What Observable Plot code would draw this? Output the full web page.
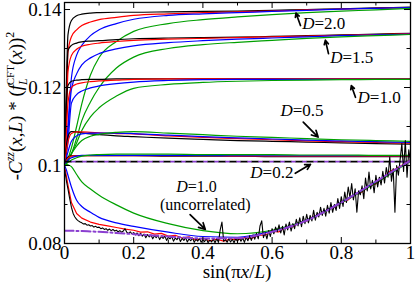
<!DOCTYPE html>
<html><head><meta charset="utf-8">
<script src="https://cdn.jsdelivr.net/npm/d3@7"></script>
<script src="https://cdn.jsdelivr.net/npm/@observablehq/plot@0.6"></script>
<style>body{margin:0;background:#fff;} svg{display:block} svg text{font-family:"Liberation Serif","Times New Roman",Times,serif;}</style>
</head><body><div id="chart"></div>
<script>
// x = sin(pi x / L) grid shared by the smooth curves
const sGrid = [0, 0.005, 0.01, 0.02, 0.035, 0.05, 0.075, 0.1, 0.15, 0.2, 0.3, 0.4, 0.5, 0.6, 0.7, 0.8, 0.9, 1];

// D = 2.0
const d20Black = [0.1000,0.1190,0.1335,0.1372,0.1384,0.1388,0.1391,0.1392,0.1393,0.1393,0.1394,0.1395,0.1396,0.1398,0.1400,0.1402,0.1404,0.1406];
const d20Red   = [0.1000,0.1130,0.1290,0.1330,0.1348,0.1359,0.1368,0.1374,0.1380,0.1385,0.1389,0.1392,0.1394,0.1396,0.1399,0.1401,0.1403,0.1405];
const d20Blue  = [0.1000,0.1040,0.1100,0.1225,0.1283,0.1308,0.1333,0.1348,0.1364,0.1375,0.1385,0.1389,0.1392,0.1395,0.1398,0.1401,0.1403,0.1405];
const d20Green = [0.1000,0.1008,0.1018,0.1045,0.1100,0.1158,0.1232,0.1277,0.1318,0.1344,0.1364,0.1374,0.1381,0.1387,0.1392,0.1396,0.1399,0.1403];
// D = 1.5
const d15Black = [0.1000,0.1150,0.1295,0.1308,0.1314,0.1317,0.1319,0.1320,0.1323,0.1325,0.1327,0.1328,0.1329,0.1331,0.1333,0.1335,0.1337,0.1339];
const d15Red   = [0.1000,0.1090,0.1240,0.1282,0.1298,0.1306,0.1311,0.1314,0.1318,0.1321,0.1324,0.1326,0.1328,0.1330,0.1332,0.1334,0.1336,0.1338];
const d15Blue  = [0.1000,0.1035,0.1090,0.1195,0.1235,0.1258,0.1276,0.1287,0.1299,0.1307,0.1315,0.1320,0.1324,0.1327,0.1330,0.1333,0.1335,0.1337];
const d15Green = [0.1000,0.1006,0.1014,0.1030,0.1070,0.1115,0.1163,0.1200,0.1250,0.1278,0.1300,0.1310,0.1316,0.1321,0.1326,0.1330,0.1333,0.1336];
// D = 1.0
const d10Black = [0.1000,0.1150,0.1205,0.1216,0.1219,0.1220,0.1221,0.1221,0.1222,0.1222,0.1222,0.1222,0.1222,0.1222,0.1222,0.1222,0.1222,0.1222];
const d10Red   = [0.1000,0.1080,0.1160,0.1200,0.1209,0.1212,0.1215,0.1217,0.1219,0.1221,0.1222,0.1222,0.1222,0.1222,0.1222,0.1222,0.1222,0.1222];
const d10Blue  = [0.1000,0.1025,0.1060,0.1160,0.1182,0.1191,0.1199,0.1204,0.1210,0.1214,0.1218,0.1220,0.1221,0.1221,0.1221,0.1221,0.1221,0.1221];
const d10Green = [0.1000,0.1006,0.1014,0.1030,0.1058,0.1090,0.1125,0.1148,0.1178,0.1198,0.1208,0.1213,0.1216,0.1218,0.1219,0.1220,0.1221,0.1221];
// D = 0.5
const d05Black = [0.1000,0.1045,0.1075,0.1087,0.1086,0.1084,0.1081,0.1079,0.1076,0.1074,0.1070,0.1067,0.1064,0.1062,0.1060,0.1058,0.1056,0.1055];
const d05Red   = [0.1000,0.1035,0.1060,0.1082,0.1086,0.1086,0.1085,0.1084,0.1082,0.1081,0.1076,0.1072,0.1069,0.1066,0.1063,0.1061,0.1059,0.1057];
const d05Blue  = [0.1000,0.1018,0.1035,0.1062,0.1076,0.1081,0.1083,0.1083,0.1083,0.1082,0.1078,0.1074,0.1071,0.1068,0.1065,0.1063,0.1061,0.1059];
const d05Green = [0.1000,0.1005,0.1012,0.1030,0.1050,0.1064,0.1075,0.1080,0.1085,0.1087,0.1083,0.1079,0.1075,0.1072,0.1069,0.1066,0.1064,0.1062];
// D = 0.2
const d02Black = [0.1000,0.1015,0.1022,0.1025,0.1025,0.1025,0.1025,0.1025,0.1025,0.1025,0.1024,0.1024,0.1024,0.1023,0.1023,0.1023,0.1023,0.1023];
const d02Red   = [0.1000,0.1012,0.1019,0.1024,0.1025,0.1025,0.1025,0.1025,0.1025,0.1025,0.1025,0.1025,0.1024,0.1024,0.1024,0.1024,0.1024,0.1024];
const d02Blue  = [0.1000,0.1008,0.1014,0.1020,0.1024,0.1026,0.1026,0.1026,0.1026,0.1026,0.1026,0.1026,0.1025,0.1025,0.1025,0.1025,0.1025,0.1025];
const d02Green = [0.1000,0.1004,0.1008,0.1014,0.1020,0.1024,0.1027,0.1028,0.1029,0.1029,0.1029,0.1028,0.1028,0.1028,0.1027,0.1027,0.1026,0.1026];
// clean reference level (dashed)
const cleanLevel = [0.1010, 0.1010];
const cleanS = [0, 1];
// D = 1.0 uncorrelated
const uncGreen = [0.1000,0.1003,0.1002,0.0997,0.0977,0.0958,0.0940,0.0924,0.0899,0.0878,0.0851,0.0833,0.0825,0.0834,0.0860,0.0904,0.0955,0.1012];
const uncBlue  = [0.1000,0.0990,0.0975,0.0945,0.0911,0.0895,0.0880,0.0867,0.0853,0.0844,0.0829,0.0818,0.0816,0.0832,0.0860,0.0906,0.0958,0.1012];
const uncFit   = [0.0833,0.0833,0.0833,0.0833,0.0832,0.0832,0.0831,0.0830,0.0827,0.0824,0.0818,0.0813,0.0814,0.0830,0.0859,0.0905,0.0959,0.1013];
const uncRedS = [0,0.005,0.01,0.02,0.035,0.05,0.075,0.1,0.125,0.15,0.175,0.2,0.22,0.24,0.26,0.28,0.3,0.32,0.34,0.36,0.38,0.4,0.42,0.44,0.46,0.48,0.5,0.52,0.54,0.56,0.58,0.6,0.62,0.64,0.66,0.68,0.7,0.72,0.74,0.76,0.78,0.8,0.82,0.84,0.86,0.88,0.9,0.92,0.94,0.96,0.98,1];
const uncRed  = [0.1000,0.0975,0.0950,0.0905,0.0877,0.0865,0.0855,0.0849,0.0845,0.0841,0.0837,0.0834,0.0829,0.0830,0.0824,0.0826,0.0819,0.0821,0.0814,0.0817,0.0809,0.0813,0.0807,0.0811,0.0806,0.0812,0.0809,0.0815,0.0813,0.0821,0.0822,0.0831,0.0830,0.0842,0.0843,0.0855,0.0858,0.0870,0.0877,0.0887,0.0893,0.0906,0.0912,0.0926,0.0932,0.0947,0.0953,0.0968,0.0985,0.0992,0.1003,0.1015];
const uncBlackS = [0,0.003,0.006,0.01,0.015,0.02,0.025,0.03,0.035,0.04,0.045,0.05,0.055,0.06,0.065,0.07,0.075,0.08,0.085,0.09,0.095,0.1,0.105,0.11,0.115,0.12,0.125,0.13,0.135,0.14,0.145,0.15,0.155,0.16,0.165,0.17,0.175,0.18,0.185,0.19,0.195,0.2,0.205,0.21,0.215,0.22,0.225,0.23,0.235,0.24,0.245,0.25,0.255,0.26,0.265,0.27,0.275,0.28,0.285,0.29,0.295,0.3,0.305,0.31,0.315,0.32,0.325,0.33,0.335,0.34,0.345,0.35,0.355,0.36,0.365,0.37,0.375,0.38,0.385,0.39,0.395,0.4,0.405,0.41,0.415,0.42,0.425,0.43,0.435,0.44,0.445,0.45,0.455,0.46,0.465,0.47,0.475,0.48,0.485,0.49,0.495,0.5,0.505,0.51,0.515,0.52,0.525,0.53,0.535,0.54,0.545,0.55,0.555,0.56,0.565,0.57,0.575,0.58,0.585,0.59,0.595,0.6,0.605,0.61,0.615,0.62,0.625,0.63,0.635,0.64,0.645,0.65,0.655,0.66,0.665,0.67,0.675,0.68,0.685,0.69,0.695,0.7,0.705,0.71,0.715,0.72,0.725,0.73,0.735,0.74,0.745,0.75,0.755,0.76,0.765,0.77,0.775,0.78,0.785,0.79,0.795,0.8,0.805,0.81,0.815,0.82,0.825,0.83,0.835,0.84,0.845,0.85,0.855,0.86,0.865,0.87,0.875,0.88,0.885,0.89,0.895,0.9,0.905,0.91,0.915,0.92,0.925,0.93,0.935,0.94,0.945,0.95,0.955,0.96,0.965,0.97,0.975,0.98,0.985,0.99,0.995,1];
const uncBlack = [0.0990,0.0975,0.0958,0.0940,0.0915,0.0893,0.0877,0.0868,0.0862,0.0858,0.0855,0.0853,0.0850,0.0851,0.0847,0.0848,0.0845,0.0846,0.0842,0.0844,0.0841,0.0842,0.0838,0.0840,0.0836,0.0838,0.0834,0.0837,0.0833,0.0836,0.0832,0.0834,0.0830,0.0833,0.0829,0.0832,0.0838,0.0829,0.0826,0.0830,0.0825,0.0828,0.0822,0.0827,0.0820,0.0826,0.0819,0.0824,0.0815,0.0823,0.0817,0.0822,0.0812,0.0820,0.0815,0.0821,0.0810,0.0818,0.0813,0.0819,0.0808,0.0816,0.0812,0.0818,0.0806,0.0814,0.0810,0.0817,0.0805,0.0813,0.0808,0.0815,0.0804,0.0812,0.0807,0.0814,0.0803,0.0811,0.0806,0.0813,0.0803,0.0810,0.0805,0.0812,0.0802,0.0809,0.0804,0.0811,0.0802,0.0812,0.0803,0.0835,0.0855,0.0806,0.0810,0.0803,0.0812,0.0804,0.0811,0.0802,0.0813,0.0805,0.0815,0.0806,0.0814,0.0803,0.0816,0.0807,0.0820,0.0808,0.0822,0.0811,0.0826,0.0812,0.0845,0.0858,0.0815,0.0828,0.0812,0.0833,0.0818,0.0838,0.0825,0.0842,0.0830,0.0848,0.0827,0.0844,0.0822,0.0850,0.0835,0.0855,0.0832,0.0851,0.0838,0.0862,0.0845,0.0866,0.0843,0.0870,0.0851,0.0875,0.0853,0.0872,0.0858,0.0885,0.0860,0.0880,0.0868,0.0893,0.0872,0.0890,0.0870,0.0898,0.0878,0.0905,0.0880,0.0900,0.0885,0.0915,0.0890,0.0920,0.0895,0.0932,0.0905,0.0945,0.0918,0.0954,0.0912,0.0940,0.0880,0.0935,0.0925,0.0948,0.0915,0.0968,0.0935,0.0983,0.0940,0.0962,0.0930,0.0975,0.0945,0.0970,0.0950,0.0985,0.0955,0.0995,0.0970,0.1022,0.0960,0.0992,0.0880,0.1000,0.0975,0.1015,0.1056,0.0985,0.1064,0.0970,0.1040,0.1010];

// axis ticks
const xMajor = [0, 0.2, 0.4, 0.6, 0.8, 1];
const xMinor = [0.1, 0.3, 0.5, 0.7, 0.9];
const yMajor = [0.08, 0.1, 0.12, 0.14];
const yMinor = [0.09, 0.11, 0.13];

// annotations
const annLabels = ["D=2.0", "D=1.5", "D=1.0", "D=0.5", "D=0.2", "D=1.0", "(uncorrelated)"];
const annS = [0.687, 0.768, 0.847, 0.624, 0.537, 0.323, 0.276];
const annV = [0.1349, 0.1262, 0.1160, 0.1128, 0.0967, 0.09317, 0.08854];
const annSize = [17, 17, 17, 17, 17, 16, 16];
const arrS1 = [0.682, 0.763, 0.841, 0.690, 0.667, 0.363];
const arrV1 = [0.1359, 0.1287, 0.1175, 0.1111, 0.0980, 0.0874];
const arrS2 = [0.669, 0.754, 0.829, 0.733, 0.711, 0.407];
const arrV2 = [0.1391, 0.1321, 0.1205, 0.1073, 0.1003, 0.0836];

const COL = {black: "#000000", red: "#ff0000", blue: "#0000ff", green: "#00a000", purple: "#8b3fd0"};
const SERIF = "'Liberation Serif','Times New Roman',Times,serif";

const gridSeries = [
  [d20Black, "black"], [d20Red, "red"], [d20Blue, "blue"], [d20Green, "green"],
  [d15Black, "black"], [d15Red, "red"], [d15Blue, "blue"], [d15Green, "green"],
  [d10Black, "black"], [d10Red, "red"], [d10Blue, "blue"], [d10Green, "green"],
  [d05Black, "black"], [d05Red, "red"], [d05Blue, "blue"], [d05Green, "green"],
  [d02Black, "black"], [d02Red, "red"], [d02Blue, "blue"], [d02Green, "green"]
];

const W = 415, H = 282, mL = 64, mR = 5, mT = 2, mB = 39;
const pW = W - mL - mR, pH = H - mT - mB;
const pts = (S, V) => S.map((s, i) => ({s, v: V[i]}));
const lineOpts = (color, extra = {}) => ({x: "s", y: "v", stroke: COL[color], strokeWidth: 1.2, curve: "monotone-x", clip: true, ...extra});

const marks = [];
for (const [vals, c] of gridSeries) marks.push(Plot.line(pts(sGrid, vals), lineOpts(c)));
marks.push(Plot.line(pts(cleanS, cleanLevel), lineOpts("black", {strokeWidth: 1.6, strokeDasharray: "7,4", curve: "linear"})));
marks.push(Plot.line(pts(cleanS, cleanLevel), lineOpts("purple", {strokeWidth: 1.6, strokeDasharray: "3,8", strokeDashoffset: -7.5, curve: "linear"})));
marks.push(Plot.line(pts(uncRedS, uncRed), lineOpts("red", {curve: "linear"})));
marks.push(Plot.line(pts(sGrid, uncBlue), lineOpts("blue")));
marks.push(Plot.line(pts(sGrid, uncGreen), lineOpts("green")));
marks.push(Plot.line(pts(uncBlackS, uncBlack), lineOpts("black", {curve: "linear", strokeWidth: 1.1})));
marks.push(Plot.line(pts(sGrid, uncFit), lineOpts("purple", {strokeWidth: 2, strokeDasharray: "9,3,2,3"})));

// frame and inward ticks
marks.push(Plot.frame({stroke: "black", strokeWidth: 1.3}));
marks.push(Plot.tickX(xMajor, {x: d => d, insetTop: pH - 6, stroke: "black"}));
marks.push(Plot.tickX(xMajor, {x: d => d, insetBottom: pH - 6, stroke: "black"}));
marks.push(Plot.tickX(xMinor, {x: d => d, insetTop: pH - 3.5, stroke: "black"}));
marks.push(Plot.tickX(xMinor, {x: d => d, insetBottom: pH - 3.5, stroke: "black"}));
marks.push(Plot.tickY(yMajor, {y: d => d, insetRight: pW - 6, stroke: "black"}));
marks.push(Plot.tickY(yMajor, {y: d => d, insetLeft: pW - 6, stroke: "black"}));
marks.push(Plot.tickY(yMinor, {y: d => d, insetRight: pW - 3.5, stroke: "black"}));
marks.push(Plot.tickY(yMinor, {y: d => d, insetLeft: pW - 3.5, stroke: "black"}));
marks.push(Plot.axisX({ticks: xMajor, tickSize: 0, tickPadding: 2, tickFormat: d => String(d), fontSize: 19, fontFamily: SERIF, label: null}));
marks.push(Plot.axisY({ticks: yMajor, tickSize: 0, tickPadding: 3, tickFormat: d => String(d), fontSize: 19, fontFamily: SERIF, label: null}));

// annotations
const ann = annLabels.map((t, i) => ({t, s: annS[i], v: annV[i], fs: annSize[i]}));
const arr = arrS1.map((s, i) => ({s1: s, v1: arrV1[i], s2: arrS2[i], v2: arrV2[i]}));
marks.push(Plot.text(ann.filter(d => d.fs === 17), {x: "s", y: "v", text: "t", textAnchor: "start", lineAnchor: "bottom", fontSize: 17, fontFamily: SERIF, fill: "black"}));
marks.push(Plot.text(ann.filter(d => d.fs === 16), {x: "s", y: "v", text: "t", textAnchor: "start", lineAnchor: "bottom", fontSize: 16, fontFamily: SERIF, fill: "black"}));
marks.push(Plot.arrow(arr, {x1: "s1", y1: "v1", x2: "s2", y2: "v2", stroke: "black", strokeWidth: 1.7, headLength: 7, headAngle: 55}));

const chart = Plot.plot({
  width: W, height: H,
  marginLeft: mL, marginRight: mR, marginTop: mT, marginBottom: mB,
  x: {domain: [0, 1], label: null},
  y: {domain: [0.08, 0.1418], label: null},
  style: {fontFamily: SERIF, fontSize: "19px", background: "white", color: "black", overflow: "visible"},
  marks
});
document.getElementById("chart").appendChild(chart);

const svg = d3.select(chart);
// italic D in annotations
svg.selectAll("text").each(function () {
  const t = this.textContent;
  if (/^D=/.test(t) && this.childElementCount === 0) {
    this.textContent = "";
    d3.select(this).append("tspan").attr("font-style", "italic").text("D");
    d3.select(this).append("tspan").text(t.slice(1));
  }
});

// x-axis title: sin(πx/L)
const xt = svg.append("text").attr("x", 237).attr("y", 278).attr("text-anchor", "middle")
  .attr("font-family", SERIF).attr("font-size", 19).attr("fill", "black");
xt.append("tspan").text("sin(π");
xt.append("tspan").attr("font-style", "italic").text("x");
xt.append("tspan").text("/");
xt.append("tspan").attr("font-style", "italic").text("L");
xt.append("tspan").text(")");

// y-axis title: -C^zz(x,L) * (f_L^CFT(x))^2
const yt = svg.append("text").attr("transform", "translate(22,106) rotate(-90)").attr("text-anchor", "middle")
  .attr("font-family", SERIF).attr("font-size", 19).attr("fill", "black");
yt.append("tspan").text("-");
yt.append("tspan").attr("font-style", "italic").text("C");
yt.append("tspan").attr("font-style", "italic").attr("font-size", 12).attr("dy", -8).text("zz");
yt.append("tspan").attr("dy", 8).text("(");
yt.append("tspan").attr("font-style", "italic").text("x");
yt.append("tspan").text(",");
yt.append("tspan").attr("font-style", "italic").text("L");
yt.append("tspan").text(") * (");
yt.append("tspan").attr("font-style", "italic").text("f");
yt.append("tspan").attr("font-style", "italic").attr("font-size", 12).attr("dy", 5).text("L");
yt.append("tspan").attr("font-size", 11).attr("dy", -13).attr("dx", -7).text("CFT");
yt.append("tspan").attr("dy", 8).text("(");
yt.append("tspan").attr("font-style", "italic").text("x");
yt.append("tspan").text("))");
yt.append("tspan").attr("font-size", 12).attr("dy", -8).text("2");
</script>
</body></html>
